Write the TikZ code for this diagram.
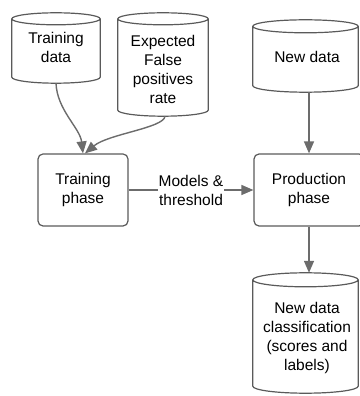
\documentclass[tikz,border=0pt]{standalone}
\usepackage{fontspec}
\setmainfont{Liberation Sans}
\usetikzlibrary{arrows.meta,calc}
\definecolor{boxgray}{HTML}{5A5A5A}
\definecolor{linegray}{HTML}{6C6C6C}
\newcommand\cylout[2]{%
  \draw[cylline] let \p1=(#1.north west), \p2=(#1.south east), \n1={(\x2-\x1)/2} in
    (#1.north) ++(0,-#2) ellipse[x radius=\n1, y radius=#2pt]
    (\x1,{\y1-#2pt}) -- (\x1,{\y2+#2pt}) arc[start angle=180,end angle=360,x radius=\n1,y radius=#2pt] -- (\x2,{\y1-#2pt});
}
\begin{document}
\begin{tikzpicture}[x=1pt,y=1pt,
  every node/.style={font=\fontsize{15.5}{19}\selectfont, align=center, text=black},
  cylbox/.style={inner sep=0pt, draw=none},
  cylline/.style={draw=boxgray, line width=1.2pt},
  cyltext/.style={inner sep=0pt},
  procbox/.style={draw=boxgray, line width=1.2pt, rounded corners=5pt, inner sep=0pt},
  conn/.style={draw=linegray, line width=1.4pt, -{Triangle[length=12pt,width=10pt]}}]
\useasboundingbox (0,0) rectangle (359,396);
% cylinders (outline boxes)
\node[cylbox, minimum width=88pt, minimum height=70pt] (td) at (56,348) {};
\node[cylbox, minimum width=90pt, minimum height=103pt] (ex) at (163,331.5) {};
\node[cylbox, minimum width=105pt, minimum height=72pt] (nd) at (305.5,340) {};
\node[cylbox, minimum width=105pt, minimum height=120pt] (ndc) at (305.5,63) {};
\cylout{td}{6}
\cylout{ex}{6}
\cylout{nd}{6.5}
\cylout{ndc}{7}
% cylinder texts
\node[cyltext] (tdt) at (56,348.5) {Training\\data};
\node[cyltext] (ext) at (163,327) {Expected\\False\\positives\\rate};
\node[cyltext] (ndt) at (307,339) {New data};
\node[cyltext] (ndct) at (307,58) {New data\\classification\\(scores and\\labels)};
% process boxes
\node[procbox, minimum width=90pt, minimum height=72pt] (tp) at (83,206) {Training\\phase};
\node[procbox, minimum width=110pt, minimum height=72pt] (pp) at (309,206) {Production\\phase};
% connectors
\draw[conn] (td.south) .. controls (57,286) and (80,268) .. (tp.north);
\draw[conn] ([xshift=2pt]ex.south) .. controls (164,268) and (108,262) .. ([xshift=2pt]tp.north);
\draw[conn] (tp.east) -- node[fill=white, inner sep=1pt] (lbl) {Models \&\\threshold} (pp.west);
\draw[conn] (nd.south -| pp.north) -- (pp.north);
\draw[conn] (pp.south) -- (ndc.north -| pp.south);
\end{tikzpicture}
\end{document}
